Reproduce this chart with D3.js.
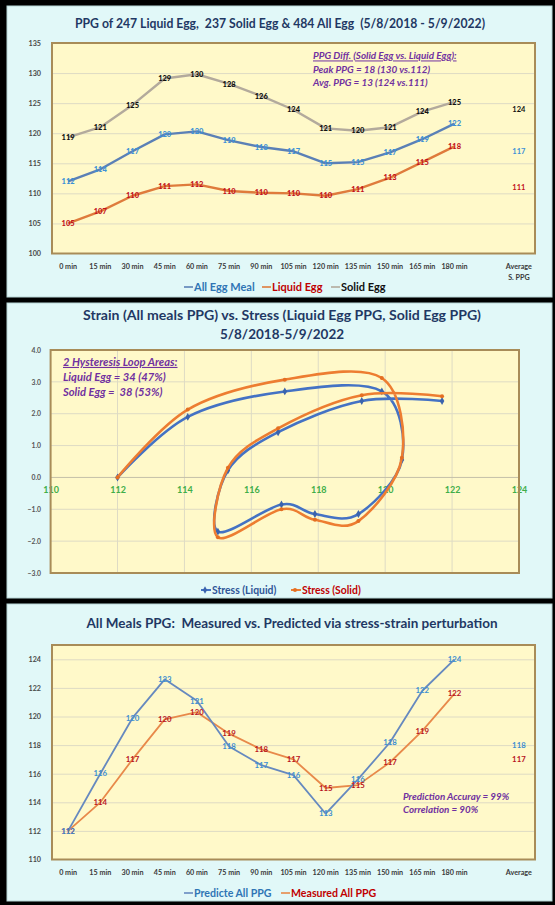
<!DOCTYPE html>
<html>
<head>
<meta charset="utf-8">
<script src="https://cdn.jsdelivr.net/npm/d3@7"></script>
<style>
  body { margin: 0; background: #000; }
  svg { display: block; font-family: Lato, "Open Sans", sans-serif; }
</style>
</head>
<body>
<svg id="chart" width="555" height="905"></svg>
<script>
// data
var times = ['0 min', '15 min', '30 min', '45 min', '60 min', '75 min', '90 min',
  '105 min', '120 min', '135 min', '150 min', '165 min', '180 min'];

// top chart
var allEgg = [112, 114, 117, 119.8, 120.3, 118.8, 117.7, 117, 115, 115.2, 116.8, 119, 121.6];
var liquidEgg = [105, 107, 109.6, 111.2, 111.5, 110.4, 110.1, 110, 109.6, 110.7, 112.6, 115.2, 117.8];
var solidEgg = [119.3, 121, 124.7, 129.1, 129.8, 128.2, 126.2, 123.9, 120.8, 120.4, 121, 123.6, 125.2];
var avgAll = 117, avgLiquid = 111, avgSolid = 124;
var ticks1 = [100, 105, 110, 115, 120, 125, 130, 135];

// middle chart (x = all meals PPG, y = stress)
var strainX = [112, 114.1, 117, 119.9, 120.5, 119.2, 117.9, 116.9, 115, 115.3, 116.8, 119.3, 121.7];
var stressLiquid = [0, 1.9, 2.7, 2.7, 0.55, -1.15, -1.15, -0.85, -1.7, 0.22, 1.42, 2.4, 2.4];
var stressSolid = [0, 2.13, 3.07, 3.12, 0.62, -1.37, -1.33, -1.0, -1.88, 0.3, 1.54, 2.58, 2.55];
var ticks2x = [110, 112, 114, 116, 118, 120, 122, 124];
var ticks2y = [-3, -2, -1, 0, 1, 2, 3, 4];

// bottom chart
var predicted = [112, 116, 119.9, 122.6, 121.1, 117.9, 116.6, 115.9, 113.2, 115.6, 118.2, 121.8, 124];
var measured = [112, 114, 117, 119.8, 120.3, 118.8, 117.7, 117, 115, 115.2, 116.8, 119, 121.6];
var avgPredicted = 118, avgMeasured = 117;
var ticks3 = [110, 112, 114, 116, 118, 120, 122, 124];

var navy = '#1f3864', purple = '#7030a0';
var plotFill = '#fff9c9', plotEdge = '#a88c58', grid = '#dedbc4';

var svg = d3.select('#chart');

// panels
[[6, 291], [303, 295], [604, 297]].forEach(function (p) {
  svg.append('rect').attr('x', 7).attr('y', p[0]).attr('width', 545).attr('height', p[1])
    .attr('fill', '#e1f8f8').attr('stroke', '#b7d6d6').attr('stroke-width', 1);
});

var addText = function (g, x, y, txt, size, fill, anchor) {
  return g.append('text').attr('x', x).attr('y', y).attr('dy', '0.35em')
    .attr('text-anchor', anchor || 'middle').attr('font-size', size)
    .attr('font-weight', 700).attr('fill', fill).text(txt);
};

// titles squeezed to the width they have in the picture
var addTitle = function (x, y, txt, width) {
  return addText(svg, x, y, txt, 13.5, navy)
    .attr('xml:space', 'preserve').style('white-space', 'pre')
    .attr('textLength', width).attr('lengthAdjust', 'spacingAndGlyphs');
};

var plotBox = function (x, y, w, h) {
  svg.append('rect').attr('x', x).attr('y', y).attr('width', w).attr('height', h)
    .attr('fill', plotFill);
};
var plotBorder = function (x, y, w, h) {
  svg.append('rect').attr('x', x).attr('y', y).attr('width', w).attr('height', h)
    .attr('fill', 'none').attr('stroke', plotEdge).attr('stroke-width', 2);
};

var legendLine = function (x, y, color, label, textColor, size) {
  svg.append('line').attr('x1', x).attr('x2', x + 9).attr('y1', y).attr('y2', y)
    .attr('stroke', color).attr('stroke-width', 1.6);
  addText(svg, x + 10, y, label, size, textColor, 'start');
};

// category scale shared by top and bottom chart: 13 times, a gap, average
var xCat = d3.scaleBand().domain(d3.range(15)).range([52, 535]);
var cx = function (i) { return xCat(i) + xCat.bandwidth() / 2; };
var catLabel = function (i) { return i < 13 ? times[i] : ''; };

var drawCatAxis = function (y) {
  var g = svg.append('g').attr('transform', 'translate(0,' + y + ')')
    .call(d3.axisBottom(xCat).tickSize(0).tickFormat(catLabel));
  g.select('.domain').remove();
  g.selectAll('text').attr('y', 0).attr('dy', '0.35em')
    .attr('font-family', 'Lato').attr('font-size', 7.2).attr('font-weight', 700).attr('fill', '#3a3a3a');
  return g;
};

var drawYAxis = function (scale, ticks, fmt, x0, x1) {
  var gr = svg.append('g').attr('transform', 'translate(' + x0 + ',0)')
    .call(d3.axisLeft(scale).tickValues(ticks).tickSize(x0 - x1).tickFormat(''));
  gr.select('.domain').remove();
  gr.selectAll('line').attr('stroke', grid).attr('stroke-width', 1);
  var g = svg.append('g').attr('transform', 'translate(41,0)')
    .call(d3.axisLeft(scale).tickValues(ticks).tickSize(0).tickPadding(0).tickFormat(fmt));
  g.select('.domain').remove();
  g.selectAll('text').attr('font-family', 'Lato').attr('font-size', 7.2)
    .attr('font-weight', 700).attr('fill', '#4a4a4a');
};

// ---------- top chart ----------
var y1 = d3.scaleLinear().domain([100, 135]).range([253.5, 43]);
plotBox(52, 43, 483, 210.5);
drawYAxis(y1, ticks1.slice(1, 7), '', 535, 52);
drawYAxis(y1, ticks1, d3.format('d'), 52, 52);
plotBorder(52, 43, 483, 210.5);

addTitle(280, 23, 'PPG of 247 Liquid Egg,  237 Solid Egg & 484 All Egg  (5/8/2018 - 5/9/2022)', 410);

var line1 = d3.line().x(function (d, i) { return cx(i); }).y(function (d) { return y1(d); });
var series1 = [
  { v: solidEgg, line: '#b3aa9c', lbl: '#111', avg: avgSolid },
  { v: allEgg, line: '#5b80b6', lbl: '#3d91d6', avg: avgAll },
  { v: liquidEgg, line: '#df7b3c', lbl: '#c3121c', avg: avgLiquid }
];
series1.forEach(function (s) {
  svg.append('path').datum(s.v).attr('d', line1).attr('fill', 'none')
    .attr('stroke', s.line).attr('stroke-width', 2.4).attr('stroke-linejoin', 'round');
});
series1.forEach(function (s) {
  svg.append('g').selectAll('text').data(s.v).enter().append('text')
    .attr('x', function (d, i) { return cx(i); })
    .attr('y', function (d) { return y1(d); })
    .attr('dy', '0.35em').attr('text-anchor', 'middle')
    .attr('font-size', 7.5).attr('font-weight', 900).attr('fill', s.lbl)
    .text(function (d) { return Math.round(d); });
  addText(svg, cx(14), y1(s.avg), s.avg, 7.5, s.lbl);
});

drawCatAxis(266);
addText(svg, cx(14), 266, 'Average', 7.2, '#3a3a3a');
addText(svg, cx(14), 277, 'S. PPG', 7.2, '#3a3a3a');

var note1 = [
  'PPG Diff. (Solid Egg vs. Liquid Egg):',
  'Peak PPG = 18 (130 vs.112)',
  'Avg. PPG = 13 (124 vs.111)'
];
note1.forEach(function (t, i) {
  addText(svg, 313, 56 + i * 13.5, t, 9.9, purple, 'start').attr('font-style', 'italic')
    .attr('text-decoration', i === 0 ? 'underline' : null);
});

legendLine(184, 287, '#5b80b6', 'All Egg Meal', '#2f75b5', 11);
legendLine(262, 287, '#df7b3c', 'Liquid Egg', '#c00000', 11);
legendLine(331, 287, '#b3aa9c', 'Solid Egg', '#111', 11);

// ---------- middle chart ----------
var x2 = d3.scaleLinear().domain([110, 124]).range([50.6, 519]);
var y2 = d3.scaleLinear().domain([-3, 4]).range([573, 350]);
plotBox(50.6, 350, 468.4, 223);

svg.append('g').selectAll('line').data(ticks2x.slice(1, 7)).enter().append('line')
  .attr('x1', function (d) { return x2(d); }).attr('x2', function (d) { return x2(d); })
  .attr('y1', 350).attr('y2', 573).attr('stroke', grid);
svg.append('g').selectAll('line').data(ticks2y.slice(1, 7)).enter().append('line')
  .attr('x1', 50.6).attr('x2', 519)
  .attr('y1', function (d) { return y2(d); }).attr('y2', function (d) { return y2(d); })
  .attr('stroke', function (d) { return d === 0 ? '#c4c0a8' : grid; });

var yAx2 = svg.append('g').attr('transform', 'translate(41,0)')
  .call(d3.axisLeft(y2).tickValues(ticks2y).tickSize(0).tickPadding(0).tickFormat(d3.format('.1f')));
yAx2.select('.domain').remove();
yAx2.selectAll('text').attr('font-family', 'Lato').attr('font-size', 6.8)
  .attr('font-weight', 700).attr('fill', '#555');

var xAx2 = svg.append('g').attr('transform', 'translate(0,' + (y2(0) + 12) + ')')
  .call(d3.axisBottom(x2).tickValues(ticks2x).tickSize(0).tickPadding(0).tickFormat(d3.format('d')));
xAx2.select('.domain').remove();
xAx2.selectAll('text').attr('y', 0).attr('dy', '0.35em').attr('font-family', 'Lato')
  .attr('font-size', 9).attr('font-weight', 700).attr('fill', '#3fae49');

plotBorder(50.6, 350, 468.4, 223);

addTitle(282, 315, 'Strain (All meals PPG) vs. Stress (Liquid Egg PPG, Solid Egg PPG)', 398);
addText(svg, 282, 334, '5/8/2018-5/9/2022', 13.5, navy);

// smoothed like the spreadsheet's curved lines
var curve2 = d3.line().curve(d3.curveCardinal.tension(0))
  .x(function (d, i) { return x2(strainX[i]); }).y(function (d) { return y2(d); });

svg.append('path').datum(stressLiquid).attr('d', curve2).attr('fill', 'none')
  .attr('stroke', '#4472c4').attr('stroke-width', 2.6);
svg.append('g').selectAll('path').data(stressLiquid).enter().append('path')
  .attr('d', d3.symbol(d3.symbolDiamond).size(18))
  .attr('transform', function (d, i) { return 'translate(' + x2(strainX[i]) + ',' + y2(d) + ')'; })
  .attr('fill', '#3a63ad');
svg.append('path').datum(stressSolid).attr('d', curve2).attr('fill', 'none')
  .attr('stroke', '#ed7d31').attr('stroke-width', 2.6);
svg.append('g').selectAll('circle').data(stressSolid).enter().append('circle')
  .attr('cx', function (d, i) { return x2(strainX[i]); })
  .attr('cy', function (d) { return y2(d); })
  .attr('r', 2).attr('fill', '#e46f22');

var note2 = ['2 Hysteresis Loop Areas:', 'Liquid Egg = 34 (47%)', 'Solid Egg =  38 (53%)'];
note2.forEach(function (t, i) {
  addText(svg, 63, 362 + i * 15, t, 11.2, purple, 'start').attr('font-style', 'italic')
    .attr('text-decoration', i === 0 ? 'underline' : null)
    .attr('xml:space', 'preserve').style('white-space', 'pre');
});

// legend with markers
svg.append('line').attr('x1', 201).attr('x2', 211).attr('y1', 590).attr('y2', 590)
  .attr('stroke', '#4472c4').attr('stroke-width', 2);
svg.append('path').attr('d', d3.symbol(d3.symbolDiamond).size(16)).attr('transform', 'translate(205,590)')
  .attr('fill', '#3a63ad');
addText(svg, 212, 590, 'Stress (Liquid)', 10.4, '#2f5597', 'start');
svg.append('line').attr('x1', 291).attr('x2', 301).attr('y1', 590).attr('y2', 590)
  .attr('stroke', '#ed7d31').attr('stroke-width', 2);
svg.append('circle').attr('cx', 295).attr('cy', 590).attr('r', 2).attr('fill', '#e46f22');
addText(svg, 302, 590, 'Stress (Solid)', 10.4, '#c00000', 'start');

// ---------- bottom chart ----------
var y3 = d3.scaleLinear().domain([110, 125]).range([859.5, 645]);
plotBox(52, 645, 483, 214.5);
drawYAxis(y3, ticks3.slice(1), '', 535, 52);
drawYAxis(y3, ticks3, d3.format('d'), 52, 52);
plotBorder(52, 645, 483, 214.5);

addTitle(292, 623, 'All Meals PPG:  Measured vs. Predicted via stress-strain perturbation', 411);

var line3 = d3.line().x(function (d, i) { return cx(i); }).y(function (d) { return y3(d); });
var series3 = [
  { v: measured, line: '#e8894a', lbl: '#b8141e', avg: avgMeasured },
  { v: predicted, line: '#6689bf', lbl: '#3d8fd1', avg: avgPredicted }
];
series3.forEach(function (s) {
  svg.append('path').datum(s.v).attr('d', line3).attr('fill', 'none')
    .attr('stroke', s.line).attr('stroke-width', 1.8).attr('stroke-linejoin', 'round');
});
series3.forEach(function (s) {
  svg.append('g').selectAll('text').data(s.v).enter().append('text')
    .attr('x', function (d, i) { return cx(i); })
    .attr('y', function (d) { return y3(d); })
    .attr('dy', '0.35em').attr('text-anchor', 'middle')
    .attr('font-size', 7.8).attr('font-weight', 700).attr('fill', s.lbl)
    .text(function (d) { return Math.round(d); });
  addText(svg, cx(14), y3(s.avg), s.avg, 7.8, s.lbl);
});

drawCatAxis(872);
addText(svg, cx(14), 872, 'Average', 7.2, '#3a3a3a');

addText(svg, 403, 797, 'Prediction Accuray = 99%', 9.8, purple, 'start').attr('font-style', 'italic');
addText(svg, 403, 810, 'Correlation = 90%', 9.8, purple, 'start').attr('font-style', 'italic');

legendLine(184, 893, '#6689bf', 'Predicte All PPG', '#2f75b5', 10.6);
legendLine(281, 893, '#e8894a', 'Measured All PPG', '#c00000', 10.6);
</script>
</body>
</html>
